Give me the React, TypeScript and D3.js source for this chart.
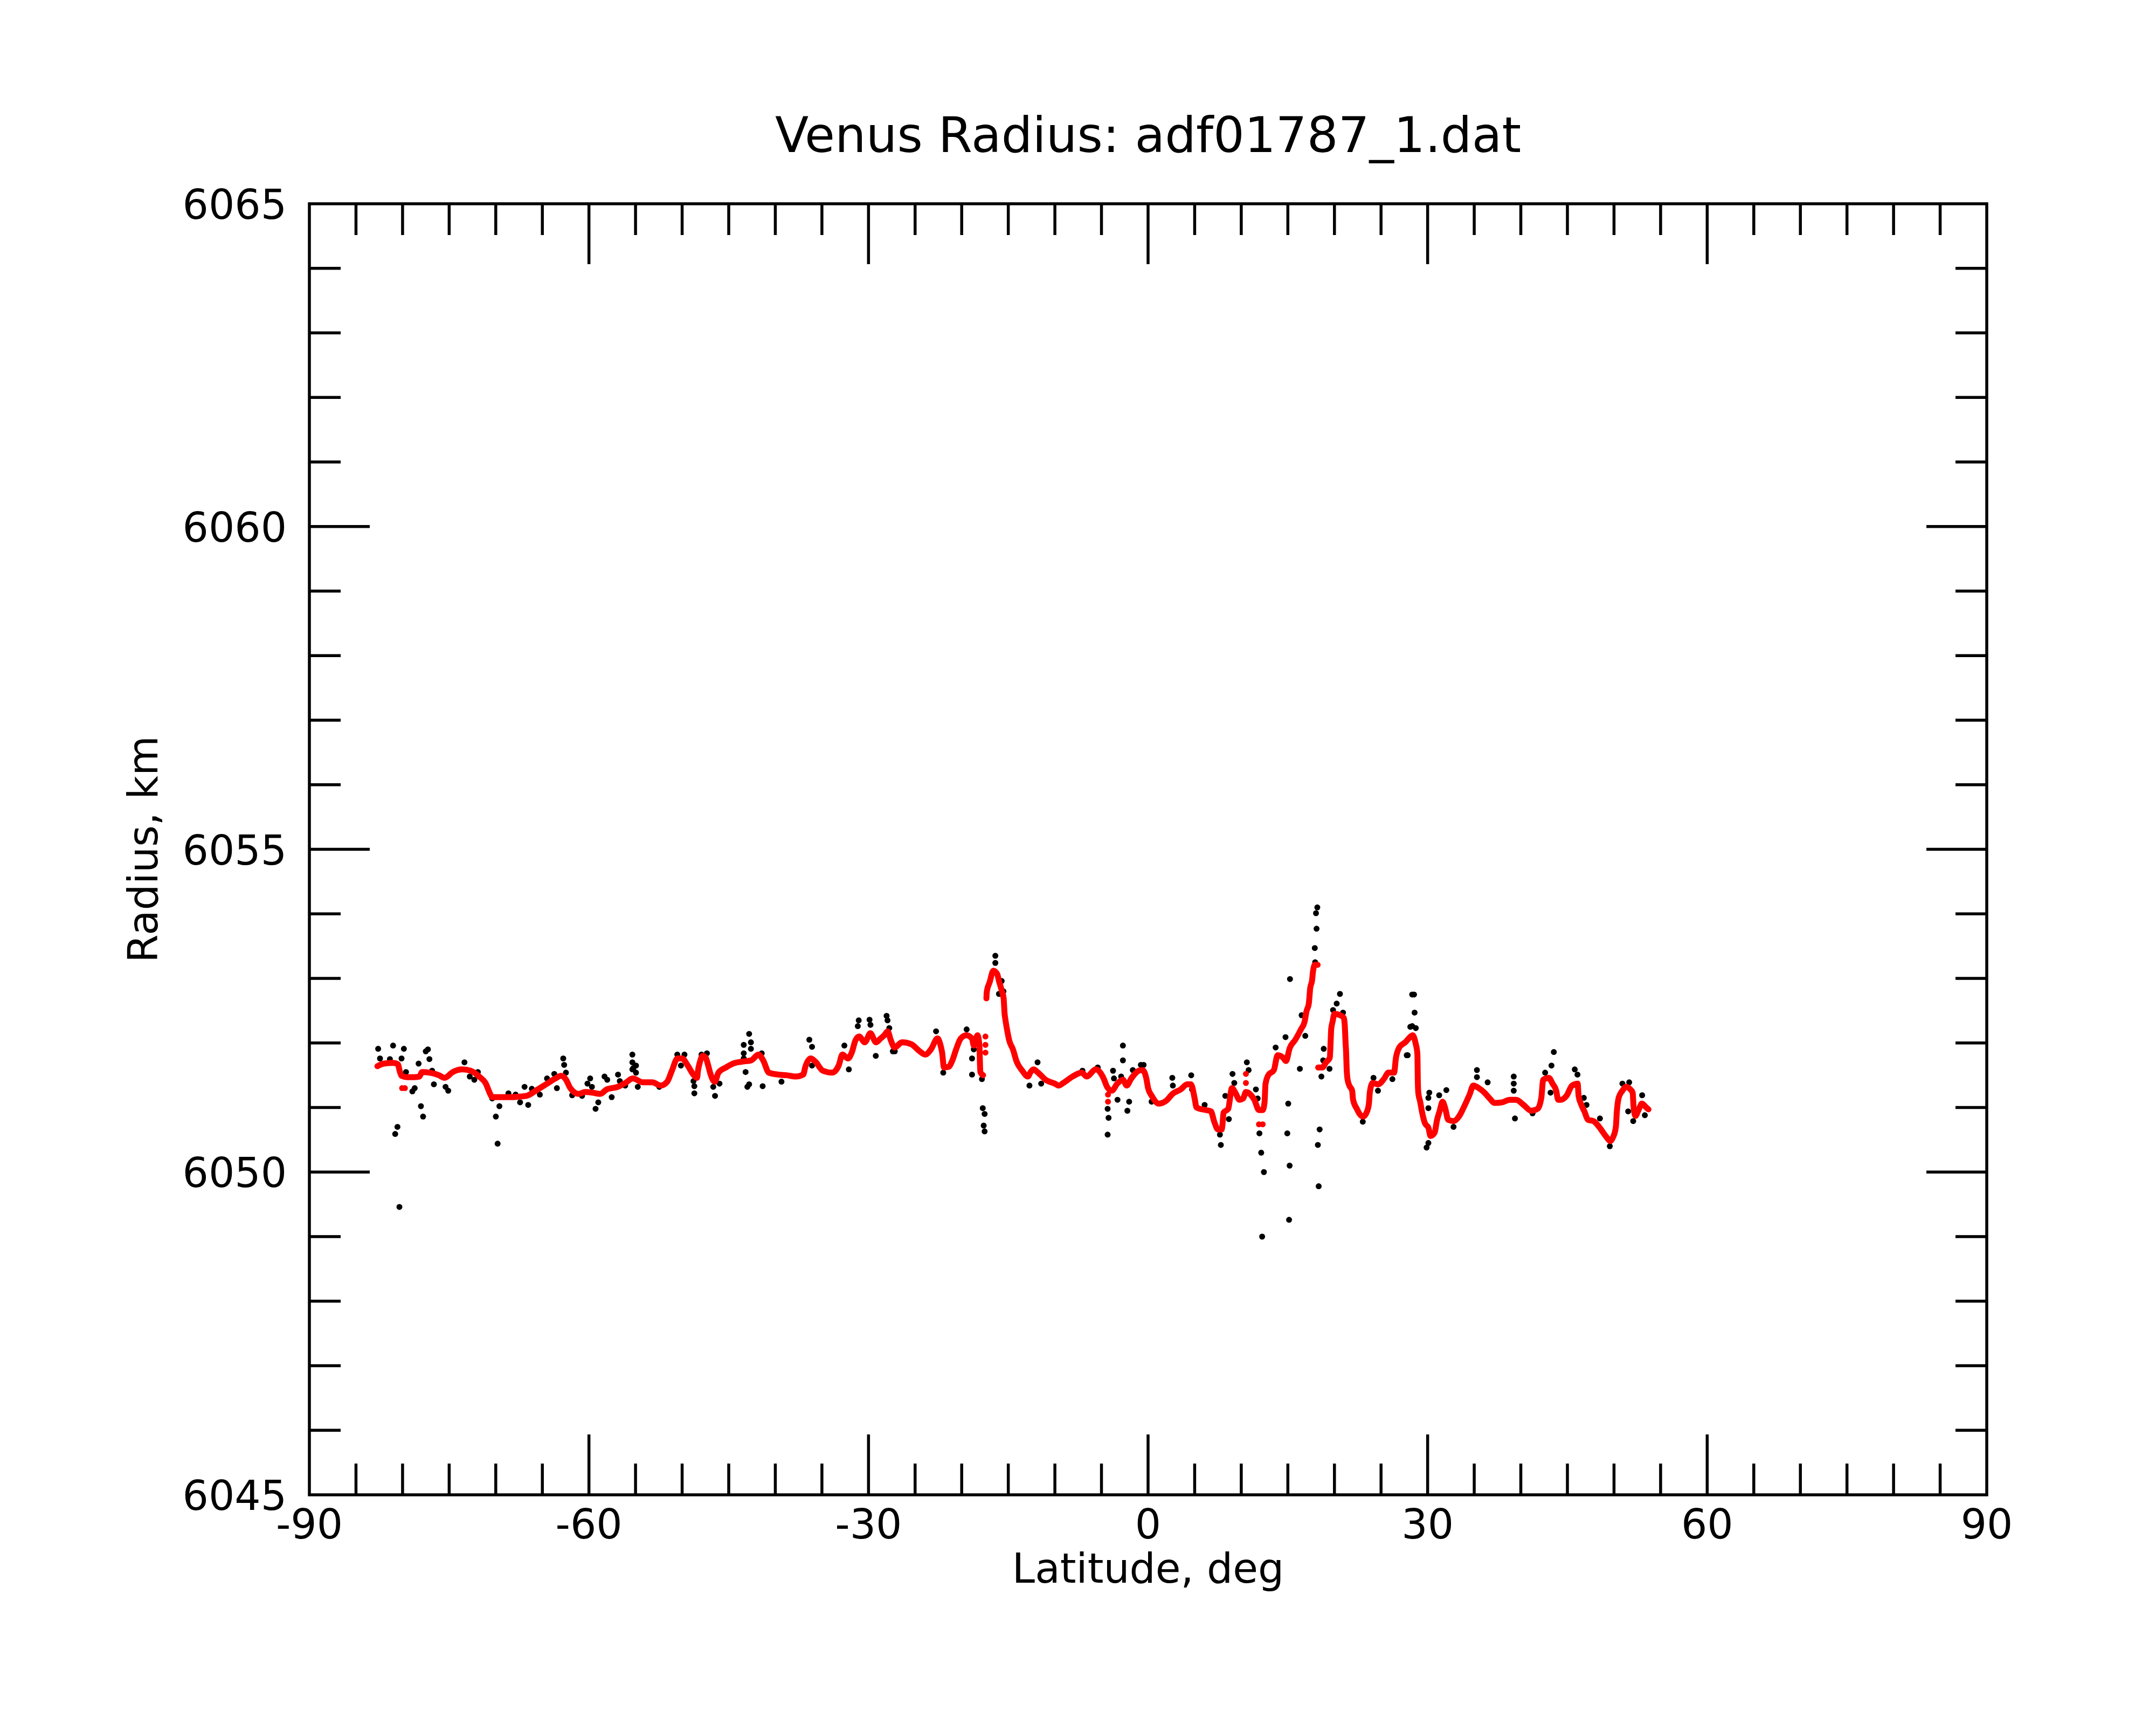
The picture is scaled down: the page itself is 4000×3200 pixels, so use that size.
import React, { useEffect, useRef } from "react";
import * as d3 from "d3";

type Pt = [number, number]; // [latitude deg, radius km]

// smoothed radius (red); split where the trace jumps
const redSouth: Pt[] = [
  [-82.7, 6051.64], [-82.0, 6051.68], [-81.0, 6051.69], [-80.5, 6051.67], [-80.3, 6051.56],
  [-80.1, 6051.49], [-79.5, 6051.47], [-78.8, 6051.47], [-78.2, 6051.48], [-77.9, 6051.55],
  [-77.1, 6051.54], [-76.1, 6051.5], [-75.5, 6051.46], [-74.6, 6051.55], [-73.6, 6051.59],
  [-72.7, 6051.57], [-71.7, 6051.47], [-71.1, 6051.38], [-70.6, 6051.21], [-70.4, 6051.16],
  [-69.4, 6051.16], [-68.4, 6051.16], [-67.4, 6051.17], [-66.7, 6051.18], [-65.5, 6051.28],
  [-64.6, 6051.36], [-63.6, 6051.45], [-63.0, 6051.49], [-62.5, 6051.44], [-62.0, 6051.3],
  [-61.1, 6051.21], [-60.4, 6051.24], [-59.6, 6051.23], [-58.8, 6051.21], [-58.1, 6051.28],
  [-56.9, 6051.32], [-56.1, 6051.38], [-55.3, 6051.45], [-54.2, 6051.39], [-53.2, 6051.39],
  [-52.3, 6051.34], [-51.6, 6051.4], [-51.1, 6051.57], [-50.5, 6051.76], [-50.0, 6051.76],
  [-49.4, 6051.65], [-48.8, 6051.51], [-48.4, 6051.46], [-48.3, 6051.57], [-48.1, 6051.7],
  [-47.8, 6051.8], [-47.5, 6051.78], [-47.2, 6051.65], [-47.0, 6051.54], [-46.5, 6051.4],
  [-46.1, 6051.54], [-45.3, 6051.62], [-44.55, 6051.68], [-43.6, 6051.71], [-42.6, 6051.73],
  [-41.8, 6051.82], [-41.3, 6051.73], [-40.7, 6051.54], [-39.7, 6051.51], [-38.8, 6051.5],
  [-37.8, 6051.48], [-37.0, 6051.51], [-36.8, 6051.62], [-36.2, 6051.76], [-35.7, 6051.71],
  [-34.9, 6051.57], [-33.9, 6051.54], [-33.2, 6051.65], [-32.8, 6051.82], [-32.2, 6051.76],
  [-31.8, 6051.85], [-31.4, 6052.04], [-31.0, 6052.1], [-30.4, 6052.01], [-29.8, 6052.15],
  [-29.2, 6052.01], [-28.7, 6052.07], [-28.3, 6052.12], [-27.95, 6052.18], [-27.6, 6052.04],
  [-27.2, 6051.93], [-26.4, 6052.01], [-25.4, 6051.98], [-24.5, 6051.87], [-23.9, 6051.82],
  [-23.3, 6051.9], [-22.6, 6052.07], [-22.3, 6051.98], [-22.1, 6051.85], [-21.9, 6051.62],
  [-21.4, 6051.63], [-21.0, 6051.73], [-20.6, 6051.9], [-20.1, 6052.07], [-19.5, 6052.12],
  [-18.9, 6052.07], [-18.7, 6051.96], [-18.3, 6052.12], [-18.1, 6051.96], [-18.0, 6051.55],
  [-17.7, 6051.5],
];

const redMiddle: Pt[] = [
  [-17.35, 6052.69], [-17.3, 6052.8], [-17.0, 6052.94], [-16.6, 6053.12], [-16.2, 6053.07],
  [-16.0, 6052.96], [-15.7, 6052.81], [-15.5, 6052.69], [-15.4, 6052.46], [-15.3, 6052.35],
  [-15.1, 6052.18], [-14.9, 6052.04], [-14.5, 6051.9], [-14.1, 6051.71], [-13.5, 6051.57],
  [-12.9, 6051.48], [-12.6, 6051.55], [-12.3, 6051.59], [-11.8, 6051.54], [-11.0, 6051.43],
  [-10.0, 6051.37], [-9.6, 6051.34], [-9.1, 6051.38], [-8.1, 6051.48], [-7.1, 6051.54],
  [-6.6, 6051.48], [-5.6, 6051.59], [-4.8, 6051.46], [-4.4, 6051.32], [-3.9, 6051.26],
  [-3.3, 6051.37], [-2.7, 6051.43], [-2.3, 6051.34], [-1.8, 6051.45], [-1.0, 6051.57],
  [-0.6, 6051.58], [-0.2, 6051.46], [0.0, 6051.3], [0.4, 6051.18], [1.15, 6051.06],
  [1.9, 6051.1], [2.7, 6051.22], [3.5, 6051.28], [4.2, 6051.36], [4.6, 6051.36],
  [5.0, 6051.14], [5.2, 6051.0], [6.2, 6050.96], [6.75, 6050.94], [7.1, 6050.78],
  [7.5, 6050.66], [7.9, 6050.66], [8.0, 6050.76], [8.1, 6050.92], [8.6, 6050.98],
  [9.0, 6051.3], [9.4, 6051.22], [9.8, 6051.12], [10.2, 6051.14], [10.5, 6051.24],
  [11.0, 6051.2], [11.4, 6051.12], [11.9, 6050.96], [12.3, 6050.96], [12.5, 6051.08],
  [12.6, 6051.36], [12.9, 6051.5], [13.5, 6051.58], [13.9, 6051.81], [14.5, 6051.77],
  [14.8, 6051.72], [15.2, 6051.92], [15.8, 6052.05], [16.4, 6052.21], [16.8, 6052.33],
  [17.0, 6052.49], [17.25, 6052.61], [17.4, 6052.85], [17.6, 6052.97], [17.7, 6053.11],
  [17.9, 6053.21], [18.2, 6053.21],
];

const redNorth: Pt[] = [
  [18.25, 6051.62], [18.7, 6051.62], [19.1, 6051.7], [19.5, 6051.77], [19.6, 6052.05],
  [19.65, 6052.21], [19.8, 6052.33], [20.0, 6052.45], [20.6, 6052.43], [21.0, 6052.39],
  [21.1, 6052.29], [21.2, 6051.99], [21.25, 6051.86], [21.3, 6051.64], [21.4, 6051.44],
  [21.6, 6051.34], [21.9, 6051.26], [22.0, 6051.12], [22.4, 6050.98], [22.7, 6050.9],
  [23.1, 6050.86], [23.5, 6050.94], [23.7, 6051.06], [23.8, 6051.24], [24.1, 6051.38],
  [24.7, 6051.36], [25.3, 6051.44], [25.8, 6051.54], [26.4, 6051.54], [26.6, 6051.77],
  [27.0, 6051.94], [27.6, 6052.01], [28.1, 6052.09], [28.4, 6052.12], [28.7, 6052.0],
  [28.9, 6051.83], [28.95, 6051.39], [29.0, 6051.23], [29.2, 6051.09], [29.4, 6050.93],
  [29.7, 6050.76], [30.1, 6050.68], [30.3, 6050.56], [30.75, 6050.61], [31.0, 6050.8],
  [31.3, 6050.95], [31.6, 6051.09], [31.9, 6050.98], [32.2, 6050.81], [32.8, 6050.79],
  [33.4, 6050.87], [33.9, 6051.01], [34.5, 6051.2], [34.9, 6051.34], [35.5, 6051.3],
  [36.1, 6051.23], [36.6, 6051.15], [37.2, 6051.07], [38.0, 6051.08], [38.8, 6051.12],
  [39.5, 6051.12], [40.3, 6051.04], [41.1, 6050.95], [41.8, 6050.98], [42.2, 6051.15],
  [42.4, 6051.43], [43.0, 6051.46], [43.4, 6051.37], [43.8, 6051.26], [44.0, 6051.12],
  [44.3, 6051.12], [44.9, 6051.18], [45.5, 6051.34], [46.1, 6051.37], [46.2, 6051.18],
  [46.5, 6051.04], [46.85, 6050.93], [47.2, 6050.81], [47.8, 6050.79], [48.4, 6050.7],
  [48.8, 6050.62], [49.2, 6050.54], [49.6, 6050.48], [49.9, 6050.54], [50.2, 6050.7],
  [50.3, 6050.93], [50.5, 6051.15], [50.9, 6051.26], [51.3, 6051.32], [51.7, 6051.29],
  [52.0, 6051.23], [52.1, 6051.01], [52.3, 6050.87], [52.6, 6050.95], [53.0, 6051.06],
  [53.4, 6051.01], [53.7, 6050.97],
];

// red samples standing off the smoothed trace
const redLoose: Pt[] = [
  [-80.05, 6051.3], [-79.75, 6051.3], [-17.45, 6052.1], [-17.45, 6051.97], [-17.45, 6051.85],
  [-4.3, 6051.2], [-4.3, 6051.09], [10.5, 6051.52], [10.5, 6051.38], [11.9, 6050.74],
  [12.3, 6050.74],
];

// raw radius samples (black)
const rawPoints: Pt[] = [
  [-82.62, 6051.91], [-82.42, 6051.76], [-81.36, 6051.75], [-81.02, 6051.96], [-80.11, 6051.76],
  [-79.86, 6051.91], [-80.79, 6050.59], [-80.55, 6050.7], [-80.34, 6049.46], [-79.63, 6051.55],
  [-78.95, 6051.25], [-78.7, 6051.3], [-78.28, 6051.68], [-78.03, 6051.02], [-77.8, 6050.86],
  [-77.51, 6051.87], [-77.28, 6051.9], [-77.12, 6051.75], [-76.83, 6051.57], [-76.64, 6051.36],
  [-75.39, 6051.32], [-75.1, 6051.26], [-73.36, 6051.7], [-72.79, 6051.48], [-72.3, 6051.43],
  [-71.92, 6051.55], [-70.38, 6051.14], [-69.99, 6050.86], [-69.8, 6050.44], [-69.61, 6051.02],
  [-68.64, 6051.22], [-67.87, 6051.2], [-67.39, 6051.08], [-66.91, 6051.32], [-66.52, 6051.04],
  [-66.13, 6051.29], [-65.27, 6051.2], [-64.5, 6051.45], [-63.72, 6051.52], [-63.44, 6051.3],
  [-62.76, 6051.76], [-62.66, 6051.66], [-62.47, 6051.54], [-61.8, 6051.19], [-60.74, 6051.18],
  [-60.16, 6051.37], [-59.87, 6051.45], [-59.68, 6051.32], [-59.29, 6050.98], [-59.0, 6051.08],
  [-58.33, 6051.48], [-58.04, 6051.43], [-57.56, 6051.16], [-56.88, 6051.51], [-56.69, 6051.41],
  [-56.11, 6051.34], [-55.34, 6051.82], [-55.34, 6051.7], [-55.34, 6051.59], [-54.95, 6051.65],
  [-55.24, 6051.61], [-54.95, 6051.54], [-54.76, 6051.32], [-52.45, 6051.32], [-50.52, 6051.82],
  [-49.75, 6051.82], [-50.13, 6051.65], [-48.78, 6051.41], [-48.69, 6051.33], [-48.69, 6051.22],
  [-47.92, 6051.82], [-47.34, 6051.84], [-46.66, 6051.32], [-46.47, 6051.18], [-45.99, 6051.37],
  [-43.39, 6051.97], [-42.81, 6052.14], [-42.62, 6052.01], [-42.62, 6051.91], [-43.39, 6051.84],
  [-43.39, 6051.76], [-43.19, 6051.55], [-43.0, 6051.32], [-42.81, 6051.36], [-41.36, 6051.33],
  [-41.46, 6051.84], [-39.34, 6051.4], [-36.35, 6052.05], [-36.06, 6051.94], [-36.06, 6051.65],
  [-32.59, 6051.96], [-32.11, 6051.59], [-31.05, 6052.35], [-31.15, 6052.26], [-29.89, 6052.36],
  [-29.79, 6052.28], [-29.22, 6051.8], [-28.06, 6052.42], [-27.96, 6052.35], [-27.77, 6052.23],
  [-27.39, 6051.87], [-27.18, 6051.87], [-22.75, 6052.18], [-21.98, 6051.54], [-19.47, 6052.21],
  [-18.89, 6051.76], [-18.89, 6051.51], [-18.7, 6051.9], [-17.83, 6051.44], [-17.74, 6050.99],
  [-17.54, 6050.9], [-17.64, 6050.72], [-17.54, 6050.63], [-16.39, 6053.35], [-16.39, 6053.24],
  [-16.0, 6052.76], [-15.71, 6052.96], [-15.52, 6052.8], [-12.73, 6051.34], [-11.86, 6051.7],
  [-11.47, 6051.37], [-7.04, 6051.57], [-5.4, 6051.62], [-4.34, 6050.98], [-4.24, 6050.84],
  [-4.34, 6050.58], [-3.76, 6051.57], [-3.66, 6051.45], [-3.28, 6051.12], [-2.89, 6051.48],
  [-2.7, 6051.96], [-2.7, 6051.73], [-2.22, 6050.95], [-2.03, 6051.09], [-1.64, 6051.58],
  [-0.77, 6051.66], [0.38, 6051.09], [-0.48, 6051.66], [2.6, 6051.46], [2.66, 6051.34],
  [4.63, 6051.5], [4.72, 6051.28], [6.07, 6051.04], [7.71, 6050.58], [7.81, 6050.42],
  [8.29, 6051.18], [8.67, 6050.82], [9.06, 6051.52], [9.25, 6051.38], [10.6, 6051.7],
  [10.79, 6051.58], [11.57, 6051.28], [11.95, 6050.6], [12.14, 6050.3], [12.43, 6050.0],
  [12.24, 6049.0], [11.76, 6051.14], [15.04, 6051.06], [14.94, 6050.6], [15.19, 6050.1],
  [15.13, 6049.26], [15.23, 6052.99], [14.75, 6052.09], [13.69, 6051.93], [16.29, 6051.6],
  [16.87, 6052.11], [16.48, 6052.43], [17.93, 6053.25], [17.89, 6053.47], [18.08, 6053.77],
  [18.02, 6054.01], [18.16, 6054.1], [18.41, 6050.66], [18.22, 6050.42], [18.31, 6049.78],
  [18.6, 6051.48], [18.85, 6051.91], [18.79, 6051.73], [19.47, 6051.6], [20.59, 6052.76],
  [20.24, 6052.61], [19.85, 6052.51], [20.92, 6052.47], [23.04, 6050.78], [24.19, 6051.46],
  [24.67, 6051.26], [26.22, 6051.44], [27.76, 6051.81], [28.14, 6052.25], [28.34, 6052.75],
  [28.54, 6052.75], [28.6, 6052.47], [28.35, 6052.26], [28.73, 6052.23], [27.86, 6051.81],
  [29.89, 6050.38], [30.08, 6050.45], [30.18, 6051.23], [30.08, 6051.15], [30.08, 6050.99],
  [31.24, 6051.19], [32.01, 6051.27], [32.78, 6050.7], [35.29, 6051.58], [35.29, 6051.47],
  [36.44, 6051.39], [39.24, 6051.48], [39.24, 6051.37], [39.24, 6051.26], [39.37, 6050.83],
  [41.26, 6050.91], [42.61, 6051.54], [43.29, 6051.65], [43.54, 6051.86], [43.19, 6051.23],
  [45.79, 6051.59], [46.08, 6051.51], [46.76, 6051.15], [47.05, 6051.04], [48.49, 6050.83],
  [49.55, 6050.4], [50.9, 6051.37], [51.63, 6051.39], [51.52, 6050.94], [52.06, 6050.79],
  [53.02, 6051.19], [53.31, 6050.88],
];

const xTickLabels = [-90, -60, -30, 0, 30, 60, 90];
const yTickLabels = [6045, 6050, 6055, 6060, 6065];

const App: React.FC = () => {
  const svgRef = useRef<SVGSVGElement>(null);

  const drawChart = () => {
    const width = 4000,
      height = 3200;
    const margin = { left: 574, right: 314, top: 378, bottom: 427 };
    const font = "DejaVu Sans, sans-serif";
    const lw = 5.5;

    const svg = d3.select(svgRef.current);
    svg.selectAll("*").remove();

    const x = d3.scaleLinear().domain([-90, 90]).range([margin.left, width - margin.right]);
    const y = d3.scaleLinear().domain([6045, 6065]).range([height - margin.bottom, margin.top]);
    const x0 = x(-90), x1 = x(90), y0 = y(6045), y1 = y(6065);

    // raw samples first, smoothed trace on top
    svg
      .append("g")
      .selectAll("circle")
      .data(rawPoints)
      .join("circle")
      .attr("cx", (d) => x(d[0]))
      .attr("cy", (d) => y(d[1]))
      .attr("r", 5.5)
      .attr("fill", "#000");

    const line = d3
      .line<Pt>()
      .x((d) => x(d[0]))
      .y((d) => y(d[1]))
      .curve(d3.curveMonotoneX);

    svg
      .append("g")
      .selectAll("path")
      .data([redSouth, redMiddle, redNorth])
      .join("path")
      .attr("d", (d) => line(d))
      .attr("fill", "none")
      .attr("stroke", "#ff0000")
      .attr("stroke-width", 11)
      .attr("stroke-linejoin", "round")
      .attr("stroke-linecap", "round");

    svg
      .append("g")
      .selectAll("circle")
      .data(redLoose)
      .join("circle")
      .attr("cx", (d) => x(d[0]))
      .attr("cy", (d) => y(d[1]))
      .attr("r", 5.5)
      .attr("fill", "#ff0000");

    // frame
    svg
      .append("rect")
      .attr("x", x0)
      .attr("y", y1)
      .attr("width", x1 - x0)
      .attr("height", y0 - y1)
      .attr("fill", "none")
      .attr("stroke", "#000")
      .attr("stroke-width", lw);

    const ticks = svg.append("g").attr("stroke", "#000").attr("stroke-width", lw);

    // x ticks every 5 deg, long every 30, on bottom and top
    d3.range(-85, 90, 5).forEach((v) => {
      const len = v % 30 === 0 ? 112 : 58;
      ticks.append("line").attr("x1", x(v)).attr("x2", x(v)).attr("y1", y0).attr("y2", y0 - len);
      ticks.append("line").attr("x1", x(v)).attr("x2", x(v)).attr("y1", y1).attr("y2", y1 + len);
    });

    // y ticks every 1 km, long every 5, on left and right
    d3.range(6046, 6065, 1).forEach((v) => {
      const len = v % 5 === 0 ? 112 : 58;
      ticks.append("line").attr("x1", x0).attr("x2", x0 + len).attr("y1", y(v)).attr("y2", y(v));
      ticks.append("line").attr("x1", x1).attr("x2", x1 - len).attr("y1", y(v)).attr("y2", y(v));
    });

    svg
      .append("g")
      .selectAll("text")
      .data(xTickLabels)
      .join("text")
      .attr("x", (d) => x(d))
      .attr("y", y0 + 81)
      .attr("text-anchor", "middle")
      .attr("font-family", font)
      .attr("font-size", 76)
      .text((d) => String(d));

    svg
      .append("g")
      .selectAll("text")
      .data(yTickLabels)
      .join("text")
      .attr("x", x0 - 42)
      .attr("y", (d) => y(d) + 28)
      .attr("text-anchor", "end")
      .attr("font-family", font)
      .attr("font-size", 76)
      .text((d) => String(d));

    svg
      .append("text")
      .attr("x", (x0 + x1) / 2)
      .attr("y", 282)
      .attr("text-anchor", "middle")
      .attr("font-family", font)
      .attr("font-size", 91)
      .text("Venus Radius: adf01787_1.dat");

    svg
      .append("text")
      .attr("x", (x0 + x1) / 2)
      .attr("y", 2936)
      .attr("text-anchor", "middle")
      .attr("font-family", font)
      .attr("font-size", 76)
      .text("Latitude, deg");

    svg
      .append("text")
      .attr("transform", `translate(292, ${(y0 + y1) / 2}) rotate(-90)`)
      .attr("text-anchor", "middle")
      .attr("font-family", font)
      .attr("font-size", 76)
      .text("Radius, km");
  };

  useEffect(drawChart, []);

  return (
    <svg
      ref={svgRef}
      width={4000}
      height={3200}
      style={{ position: "absolute", left: 0, top: 0, background: "#fff" }}
    />
  );
};

export default App;
